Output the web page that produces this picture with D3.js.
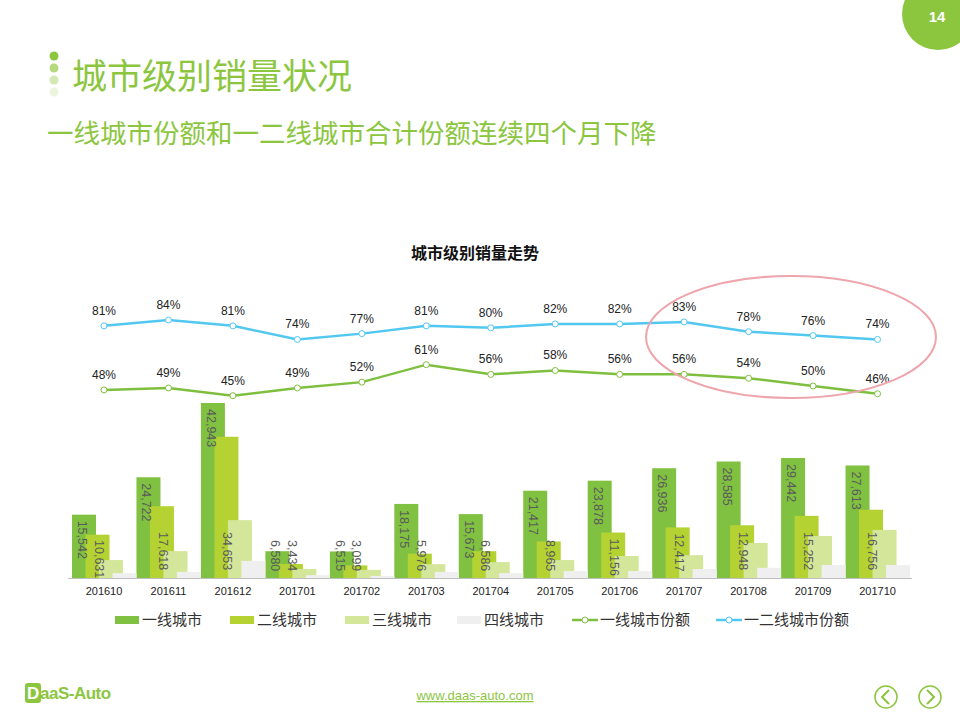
<!DOCTYPE html>
<html><head><meta charset="utf-8">
<script src="https://cdn.jsdelivr.net/npm/d3@7"></script>
<style>body{margin:0;background:#fff;}svg{font-family:"Microsoft YaHei","Noto Sans CJK SC",Arial,sans-serif;}</style>
</head><body><svg id="c" width="960" height="720"></svg>
<script>
const months=["201610","201611","201612","201701","201702","201703","201704","201705","201706","201707","201708","201709","201710"];
const tier1=[15542,24722,42943,6580,6515,18175,15673,21417,23878,26936,28585,29442,27613];
const tier2=[10631,17618,34653,3434,3099,5976,6586,8965,11156,12417,12948,15252,16756];
const tier3=[4400,6600,14200,2200,2000,3400,3900,4400,5400,5600,8600,10300,11800];
const tier4=[1200,1500,4200,700,500,1500,1200,1700,1700,2200,2500,3200,3200];
const share1=[48,49,45,49,52,61,56,58,56,56,54,50,46];
const share12=[81,84,81,74,77,81,80,82,82,83,78,76,74];
const seriesNames=["一线城市","二线城市","三线城市","四线城市","一线城市份额","一二线城市份额"];
const colors=["#80c141","#b4d333","#d4e69a","#efefef","#7fbf3f","#52c8f0"];

const svg=d3.select("#c");
const green="#8cc63f";
svg.append("circle").attr("cx",938).attr("cy",14).attr("r",36).attr("fill",green);
svg.append("text").attr("x",937).attr("y",22).attr("text-anchor","middle").attr("fill","#fff").attr("font-size",15).attr("font-weight","bold").attr("font-family","Arial").text("14");
[["#8cc63f",56],["#b5d97f",68],["#d3e8b4",80],["#ecf4e0",92]].forEach(d=>svg.append("circle").attr("cx",54).attr("cy",d[1]).attr("r",4.5).attr("fill",d[0]));
svg.append("text").attr("x",72).attr("y",89).attr("fill",green).attr("font-size",35).text("城市级别销量状况");
svg.append("text").attr("x",47).attr("y",143).attr("fill",green).attr("font-size",26.5).text("一线城市份额和一二线城市合计份额连续四个月下降");
svg.append("text").attr("x",475).attr("y",259).attr("text-anchor","middle").attr("fill","#111").attr("font-size",16).attr("font-weight","bold").text("城市级别销量走势");

const x=d3.scaleBand().domain(months).range([72,910]);
const base=578;
const y=d3.scaleLinear().domain([0,42943]).range([base,403]);
const yp=d3.scaleLinear().domain([0,100]).range([483,289]);
const bw=24, off=13.5;
const tiers=[tier1,tier2,tier3,tier4];
tiers.forEach((arr,k)=>{
  svg.append("g").selectAll("rect").data(arr).join("rect")
   .attr("x",(d,i)=>x(months[i])+k*off).attr("width",bw)
   .attr("y",d=>y(d)).attr("height",d=>base-y(d)).attr("fill",colors[k]);
});
svg.append("line").attr("x1",68).attr("x2",912).attr("y1",base+0.5).attr("y2",base+0.5).attr("stroke","#bfbfbf");
svg.append("g").selectAll("text").data(months).join("text")
 .attr("x",d=>x(d)+32).attr("y",595).attr("text-anchor","middle").attr("font-size",11).attr("font-family","Arial").attr("fill","#222").text(d=>d);
const fmt=d3.format(",");
tier1.forEach((v,i)=>{
  const cx=x(months[i])+bw/2-1, ys=Math.min(y(v)+6,540);
  svg.append("text").attr("transform",`translate(${cx-5},${ys}) rotate(90)`).attr("font-size",12.5).attr("font-family","Arial").attr("fill","#5a5a5a").text(fmt(v));
});
tier2.forEach((v,i)=>{
  const cx=x(months[i])+off+bw/2+2, ys=Math.min(Math.max(y(v)+6,532),540);
  svg.append("text").attr("transform",`translate(${cx-5},${ys}) rotate(90)`).attr("font-size",12.5).attr("font-family","Arial").attr("fill","#5a5a5a").text(fmt(v));
});
[[share1,colors[4]],[share12,colors[5]]].forEach(([arr,c])=>{
  const pts=arr.map((v,i)=>[x(months[i])+32,yp(v)]);
  svg.append("path").attr("d",d3.line()(pts)).attr("fill","none").attr("stroke",c).attr("stroke-width",2.5);
  svg.append("g").selectAll("circle").data(pts).join("circle").attr("cx",d=>d[0]).attr("cy",d=>d[1]).attr("r",3).attr("fill","#fff").attr("stroke",c).attr("stroke-width",1);
  svg.append("g").selectAll("text").data(arr).join("text")
   .attr("x",(d,i)=>pts[i][0]).attr("y",(d,i)=>pts[i][1]-11)
   .attr("text-anchor","middle").attr("font-size",12).attr("font-family","Arial").attr("fill","#222").text(d=>d+"%");
});
svg.append("ellipse").attr("cx",791).attr("cy",337).attr("rx",145).attr("ry",61).attr("fill","none").attr("stroke","#eea5ab").attr("stroke-width",2);
const lx=[115,230,345,457,572,716];
seriesNames.forEach((n,k)=>{
  const g=svg.append("g").attr("transform",`translate(${lx[k]},620)`);
  if(k<4) g.append("rect").attr("x",0).attr("y",-4).attr("width",24).attr("height",8).attr("fill",colors[k]);
  else{ g.append("line").attr("x1",0).attr("x2",26).attr("stroke",colors[k]).attr("stroke-width",2.5);
        g.append("circle").attr("cx",13).attr("r",3).attr("fill","#fff").attr("stroke",colors[k]);}
  g.append("text").attr("x",k<4?27:28).attr("y",5).attr("font-size",15).attr("fill","#333").text(n);
});
svg.append("rect").attr("x",25).attr("y",683).attr("width",16).attr("height",20).attr("rx",3).attr("fill",green);
svg.append("text").attr("x",27).attr("y",699).attr("font-size",17).attr("font-weight","bold").attr("font-family","Arial").attr("fill","#fff").text("D");
svg.append("text").attr("x",40).attr("y",699).attr("font-size",17).attr("font-weight","bold").attr("font-family","Arial").attr("fill",green).attr("letter-spacing",-0.5).text("aaS-Auto");
svg.append("text").attr("x",475).attr("y",700).attr("text-anchor","middle").attr("font-size",13).attr("font-family","Arial").attr("fill","#8cc63f").attr("text-decoration","underline").text("www.daas-auto.com");
[[886,"M889,690 L882,697 L889,704"],[930,"M927,690 L934,697 L927,704"]].forEach(([cx,p])=>{
  svg.append("circle").attr("cx",cx).attr("cy",697).attr("r",11).attr("fill","none").attr("stroke",green).attr("stroke-width",1.5);
  svg.append("path").attr("d",p).attr("fill","none").attr("stroke",green).attr("stroke-width",2);
});
</script></body></html>
